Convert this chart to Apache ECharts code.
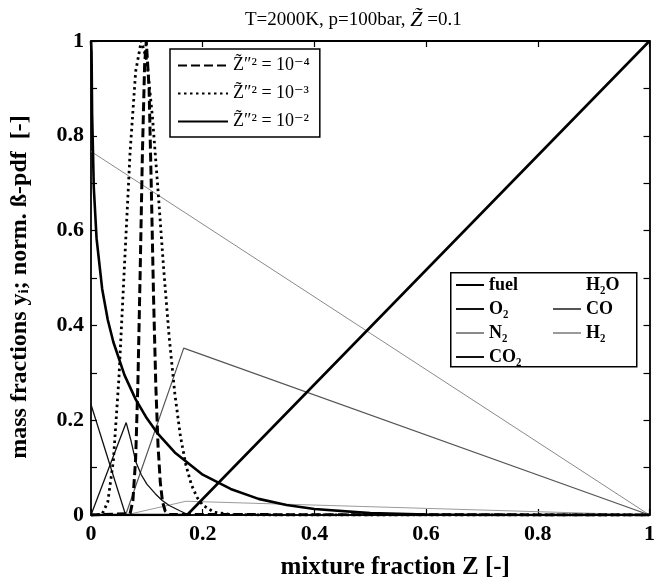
<!DOCTYPE html>
<html>
<head>
<meta charset="utf-8">
<script src="https://cdn.jsdelivr.net/npm/echarts@6/dist/echarts.min.js"></script>
<style>html,body{margin:0;padding:0;background:#fff}#c{width:658px;height:585px}</style>
</head>
<body>
<div id="c"></div>
<script>
// ---------- data ----------
const xTicks = [0, 0.2, 0.4, 0.6, 0.8, 1];
const yTicks = [0, 0.2, 0.4, 0.6, 0.8, 1];

const fuelZ = [0, 0.172, 1];
const fuelY = [0, 0, 1];
const o2Z = [0, 0.062, 1];
const o2Y = [0.233, 0, 0];
const n2Z = [0, 1];
const n2Y = [0.767, 0];
const co2Z = [0, 0.063, 0.072, 0.08, 0.09, 0.1, 0.115, 0.127, 0.14, 0.159, 0.175, 1];
const co2Y = [0, 0.195, 0.155, 0.113, 0.085, 0.065, 0.045, 0.031, 0.02, 0.009, 0, 0];
const h2oZ = [0, 0.062, 0.172, 1];
const h2oY = [0, 0.089, 0, 0];
const coZ = [0, 0.062, 0.166, 1];
const coY = [0, 0, 0.352, 0];
const h2Z = [0, 0.062, 0.17, 1];
const h2Y = [0, 0, 0.029, 0];

const pdf4Z = [0, 0.07, 0.075, 0.08, 0.084, 0.088, 0.092, 0.096, 0.099, 0.1, 0.104, 0.108, 0.112, 0.116, 0.12, 0.124, 0.128, 0.133, 0.14, 1];
const pdf4Y = [0, 0.003, 0.03, 0.12, 0.28, 0.51, 0.76, 0.95, 1, 0.996, 0.9, 0.69, 0.46, 0.275, 0.147, 0.07, 0.028, 0.008, 0.001, 0];
const pdf3Z = [0, 0.01, 0.02, 0.03, 0.04, 0.05, 0.06, 0.07, 0.08, 0.09, 0.1, 0.11, 0.12, 0.13, 0.14, 0.15, 0.16, 0.17, 0.18, 0.19, 0.2, 0.22, 0.25, 0.3, 1];
const pdf3Y = [0, 0, 0.002, 0.027, 0.114, 0.289, 0.528, 0.766, 0.936, 1, 0.959, 0.84, 0.685, 0.521, 0.375, 0.257, 0.167, 0.105, 0.063, 0.037, 0.021, 0.006, 0.001, 0, 0];
const pdf2Z = [0, 0.001, 0.002, 0.005, 0.01, 0.02, 0.03, 0.04, 0.06, 0.08, 0.1, 0.12, 0.15, 0.2, 0.25, 0.3, 0.35, 0.4, 0.5, 0.6, 0.7, 1];
const pdf2Y = [1, 0.977, 0.846, 0.691, 0.583, 0.477, 0.412, 0.365, 0.295, 0.244, 0.204, 0.171, 0.132, 0.085, 0.055, 0.034, 0.021, 0.0125, 0.004, 0.001, 0, 0];

const speciesNames = ['fuel', 'O\u2082', 'N\u2082', 'CO\u2082', 'H\u2082O', 'CO', 'H\u2082'];
const pdfNames = ['Z\u0303\u2033\u00B2 = 10\u207B\u2074', 'Z\u0303\u2033\u00B2 = 10\u207B\u00B3', 'Z\u0303\u2033\u00B2 = 10\u207B\u00B2'];

// ---------- chart ----------
const FONT = "'Liberation Serif', 'DejaVu Serif', serif";
function zip(z, y) { return z.map((v, i) => [v, y[i]]); }
function line(name, z, y, color, width, type, opacity) {
  const op = opacity === undefined ? 1 : opacity;
  return {
    name: name, type: 'line', data: zip(z, y), symbol: 'none', showSymbol: false,
    animation: false, xAxisIndex: 0, yAxisIndex: 0,
    lineStyle: { color: color, width: width, type: type || 'solid', opacity: op, cap: 'butt' },
    itemStyle: { color: color, opacity: op },
    emphasis: { disabled: true }
  };
}

const series = [
  line(speciesNames[4], h2oZ, h2oY, '#ffffff', 1, 'solid', 0),
  line(speciesNames[2], n2Z, n2Y, '#8a8a8a', 1),
  line(speciesNames[6], h2Z, h2Y, '#9a9a9a', 1),
  line(speciesNames[5], coZ, coY, '#555555', 1.2),
  line(speciesNames[1], o2Z, o2Y, '#111111', 1.3),
  line(speciesNames[3], co2Z, co2Y, '#111111', 1.3),
  line(speciesNames[0], fuelZ, fuelY, '#000000', 2.6),
  line(pdfNames[0], pdf4Z, pdf4Y, '#000000', 3, [9, 4]),
  line(pdfNames[1], pdf3Z, pdf3Y, '#000000', 2.8, [2.5, 3.5]),
  line(pdfNames[2], pdf2Z, pdf2Y, '#000000', 2.6)
];

const axisCommon = {
  type: 'value', min: 0, max: 1,
  splitLine: { show: false },
  axisLine: { show: true, onZero: false, lineStyle: { color: '#000', width: 1.8 } },
  axisTick: { show: true, inside: true, length: 6, lineStyle: { color: '#000', width: 1.2 } }
};

const fmt = v => { const r = Math.round(v * 10); return r % 2 === 0 ? String(r / 10) : ''; };
const legendNoSymbol = { opacity: 0, borderWidth: 0 };

const option = {
  backgroundColor: '#fff',
  animation: false,
  title: {
    text: 'T=2000K, p=100bar, {z|Z\u0303} =0.1',
    left: 240, top: 4,
    textStyle: { fontFamily: FONT, fontSize: 19, fontWeight: 'normal', color: '#000',
      rich: { z: { fontFamily: FONT, fontSize: 22, fontStyle: 'italic', color: '#000' } } }
  },
  grid: { left: 88, right: 3, top: 41, bottom: 67, containLabel: false },
  xAxis: [
    Object.assign({}, axisCommon, {
      position: 'bottom', interval: 0.2,
      axisLabel: { show: true, color: '#000', fontFamily: FONT, fontSize: 22, fontWeight: 'bold', margin: 8,
        formatter: v => String(Math.round(v * 10) / 10) },
      name: 'mixture fraction Z [-]', nameLocation: 'middle', nameGap: 40,
      nameTextStyle: { fontFamily: FONT, fontSize: 25, fontWeight: 'bold', color: '#000', padding: [0, 0, 0, 50] }
    }),
    Object.assign({}, axisCommon, { position: 'top', interval: 0.2, axisLabel: { show: false } })
  ],
  yAxis: [
    Object.assign({}, axisCommon, {
      position: 'left', interval: 0.1,
      axisLabel: { show: true, color: '#000', fontFamily: FONT, fontSize: 22, fontWeight: 'bold', margin: 7, formatter: fmt },
      name: 'mass fractions y\u1D62; norm. \u00DF-pdf  [-]', nameLocation: 'middle', nameGap: 59,
      nameTextStyle: { fontFamily: FONT, fontSize: 24, fontWeight: 'bold', color: '#000', padding: [0, 18, 0, 0] }
    }),
    Object.assign({}, axisCommon, { position: 'right', interval: 0.1, axisLabel: { show: false } })
  ],
  legend: [
    {
      data: pdfNames, orient: 'vertical', left: 170, top: 49,
      padding: [6, 10, 5, 7], itemGap: 7, itemWidth: 50, itemHeight: 14,
      borderColor: '#000', borderWidth: 1.5, backgroundColor: '#fff',
      selectedMode: false, itemStyle: legendNoSymbol,
      textStyle: { fontFamily: FONT, fontSize: 18, color: '#000', lineHeight: 21 }
    },
    {
      data: speciesNames.slice(0, 4), orient: 'vertical', left: 455, top: 275,
      padding: 0, itemGap: 4, itemWidth: 28, itemHeight: 12, selectedMode: false, itemStyle: legendNoSymbol,
      textStyle: { fontFamily: FONT, fontSize: 18, fontWeight: 'bold', color: '#000', lineHeight: 20 }
    },
    {
      data: speciesNames.slice(4), orient: 'vertical', left: 552, top: 275,
      padding: 0, itemGap: 4, itemWidth: 28, itemHeight: 12, selectedMode: false, itemStyle: legendNoSymbol,
      textStyle: { fontFamily: FONT, fontSize: 18, fontWeight: 'bold', color: '#000', lineHeight: 20 }
    }
  ],
  graphic: [
    { type: 'rect', left: 450, top: 272, z: 0, silent: true,
      shape: { width: 186, height: 94 },
      style: { fill: '#fff', stroke: '#000', lineWidth: 1.5 } }
  ],
  series: series
};

const chart = echarts.init(document.getElementById('c'), null, { renderer: 'canvas' });
chart.setOption(option);
</script>
</body>
</html>
